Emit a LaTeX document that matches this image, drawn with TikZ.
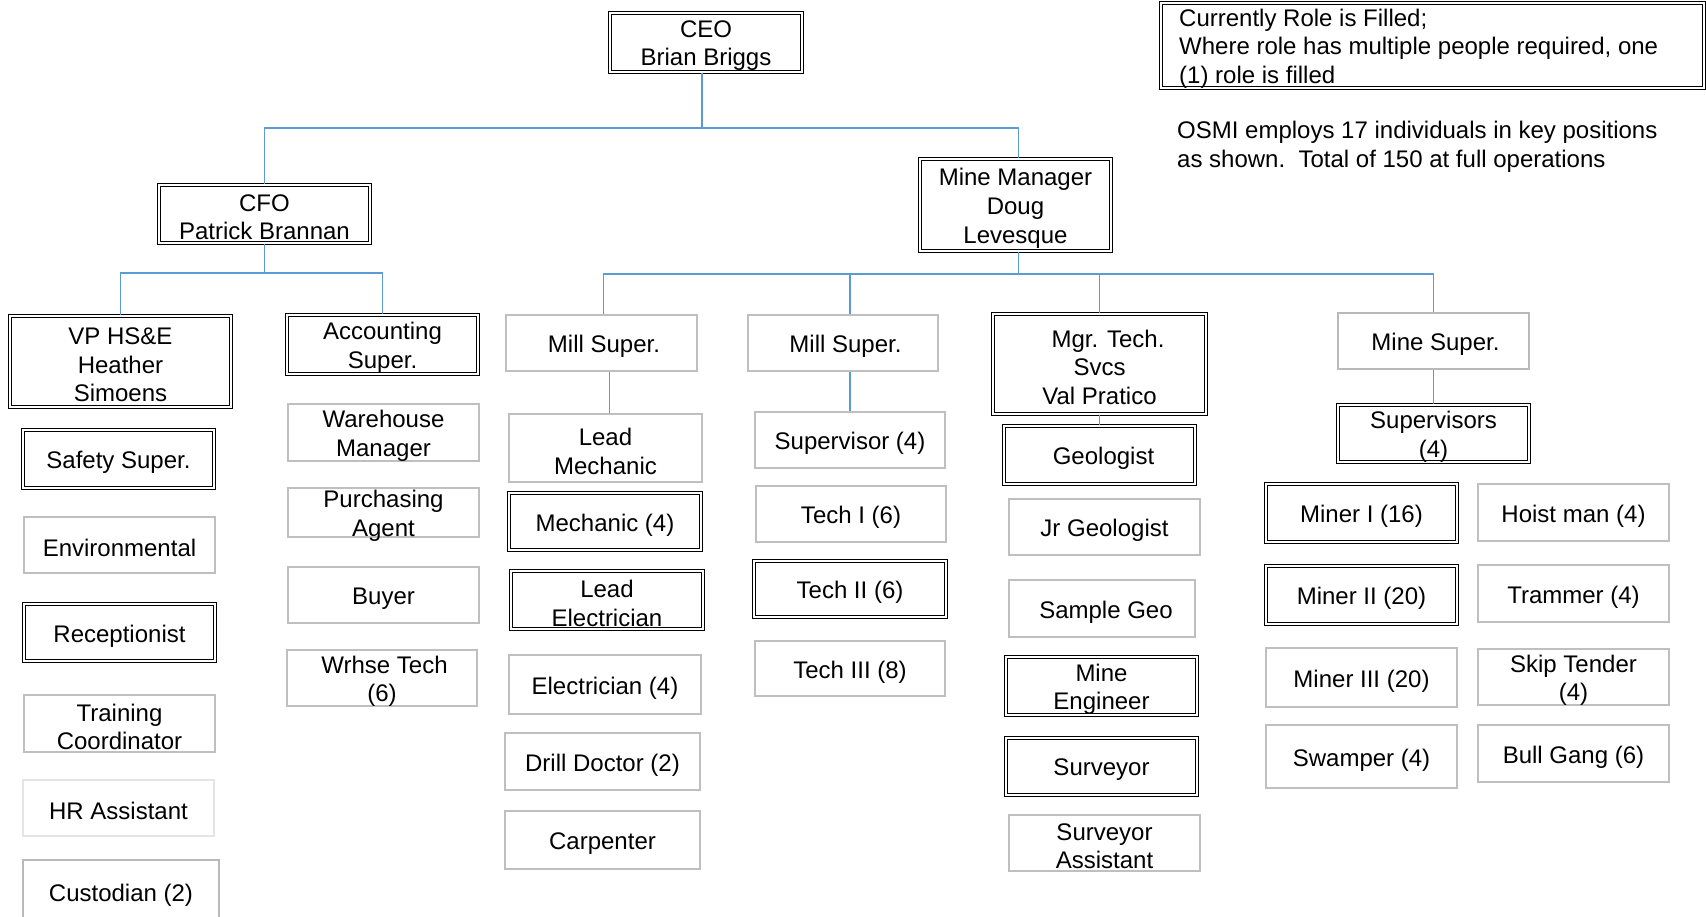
\documentclass[tikz,border=0pt]{standalone}
\usepackage{fontspec}
\setmainfont{Liberation Sans}
\definecolor{connblue}{HTML}{5B9BD5}
\definecolor{boxgray}{HTML}{BFBFBF}
\definecolor{lightgray2}{HTML}{E4E4E4}
\newcommand\fs{\fontsize{24}{28.6}\selectfont}
\tikzset{
  base/.style={font=\fs, align=center, inner sep=0pt, anchor=center},
  txt/.style={font=\fs, align=center, inner sep=0pt, yshift=-3.3pt},
  dbl/.style={base, draw=black, line width=1.2pt, double=white, double distance=1.6pt},
  gry/.style={base, draw=boxgray, line width=1.6pt},
  conn/.style={draw=connblue, line width=1.4pt},
}
\newcommand\dboxx[7][]{\node[dbl,#1, minimum width={#4-#3-4}, minimum height={#6-#5-4}, label={[txt]center:{#7}}] (#2) at ({(#3+#4)/2},{(#5+#6)/2}) {};}
\newcommand\gboxx[7][]{\node[gry,#1, minimum width={#4-#3-1.6}, minimum height={#6-#5-1.6}, label={[txt]center:{#7}}] (#2) at ({(#3+#4)/2},{(#5+#6)/2}) {};}
\begin{document}
\begin{tikzpicture}[x=1pt,y=-1pt]
\useasboundingbox (0,0) rectangle (1706,917);
% legend
\draw[draw=black, line width=1.2pt, double=white, double distance=1.6pt] (1161,3) rectangle (1704,88);
\node[font=\fs, align=left, anchor=west, inner sep=0pt] (legend) at (1179,48.5) {Currently Role is Filled;\\Where role has multiple people required, one\\(1) role is filled};
\node[font=\fs, align=left, anchor=west, inner sep=0pt] (note) at (1177,146.5) {OSMI employs 17 individuals in key positions\\as shown.\ \ Total of 150 at full operations};
% top
\dboxx{ceo}{608}{804}{11}{74}{CEO\\Brian Briggs}
\dboxx{cfo}{157}{372}{183}{245}{CFO\\Patrick Brannan}
\dboxx{mm}{918}{1113}{157}{253}{Mine Manager\\Doug\\Levesque}
% second level
\dboxx{vp}{8}{233}{314}{409}{VP HS\&E\\Heather\\Simoens}
\dboxx{acc}{285}{480}{313}{376}{Accounting\\Super.}
\gboxx{mill1}{505}{698}{314}{372}{\hspace*{5pt}Mill Super.}
\gboxx{mill2}{747}{939}{314}{372}{\hspace*{5pt}Mill Super.}
\dboxx{mgr}{991}{1208}{312}{416}{\hspace*{17pt}Mgr. Tech.\\Svcs\\Val Pratico}
\gboxx[draw=gray!55]{minesup}{1337}{1530}{312}{370}{\hspace*{4pt}Mine Super.}
% VP column
\dboxx{safety}{21}{216}{428}{490}{Safety Super.}
\gboxx{env}{23}{216}{516}{574}{Environmental}
\dboxx{recep}{22}{217}{602}{663}{Receptionist}
\gboxx{train}{23}{216}{694}{753}{Training\\Coordinator}
\gboxx[draw=lightgray2]{hr}{22}{215}{779}{837}{HR Assistant}
\gboxx[draw=gray!55, line width=2pt]{cust}{22}{220}{859}{925}{Custodian (2)}
% Accounting column
\gboxx{wm}{287}{480}{403}{462}{Warehouse\\Manager}
\gboxx{pa}{287}{480}{487}{538}{Purchasing\\Agent}
\gboxx{buyer}{287}{480}{566}{624}{Buyer}
\gboxx{wt}{286}{478}{649}{707}{\hspace*{5pt}Wrhse Tech\\(6)}
% Mill 1 column
\gboxx{lmech}{508}{703}{413}{483}{Lead\\Mechanic}
\dboxx{mech}{507}{703}{491}{552}{Mechanic (4)}
\dboxx{lelec}{509}{705}{569}{631}{Lead\\Electrician}
\gboxx{elec}{508}{702}{654}{715}{Electrician (4)}
\gboxx{drill}{504}{701}{732}{791}{Drill Doctor (2)}
\gboxx{carp}{504}{701}{810}{870}{Carpenter}
% Mill 2 column
\gboxx{sup4}{754}{946}{411}{469}{Supervisor (4)}
\gboxx{tech1}{755}{947}{485}{543}{Tech I (6)}
\dboxx{tech2}{752}{948}{559}{619}{Tech II (6)}
\gboxx{tech3}{754}{946}{640}{697}{Tech III (8)}
% Tech services column
\dboxx{geo}{1002}{1197}{424}{486}{\hspace*{8pt}Geologist}
\gboxx{jrgeo}{1008}{1201}{498}{556}{Jr Geologist}
\gboxx{sgeo}{1008}{1196}{579}{638}{\hspace*{8pt}Sample Geo}
\dboxx{meng}{1004}{1199}{655}{717}{Mine\\Engineer}
\dboxx{surv}{1004}{1199}{736}{797}{Surveyor}
\gboxx{survass}{1008}{1201}{814}{872}{Surveyor\\Assistant}
% Mine column
\dboxx{sups}{1336}{1531}{403}{464}{Supervisors\\(4)}
\dboxx{miner1}{1264}{1459}{482}{544}{Miner I (16)}
\gboxx{hoist}{1477}{1670}{483}{542}{Hoist man (4)}
\dboxx{miner2}{1264}{1459}{564}{626}{Miner II (20)}
\gboxx{tram}{1477}{1670}{564}{623}{Trammer (4)}
\gboxx{miner3}{1265}{1458}{647}{708}{Miner III (20)}
\gboxx{skip}{1477}{1670}{648}{706}{Skip Tender\\(4)}
\gboxx{swamp}{1265}{1458}{724}{789}{Swamper (4)}
\gboxx{bull}{1477}{1670}{724}{783}{Bull Gang (6)}
% connectors
\coordinate (b0) at (0,128);
\coordinate (b1) at (0,273);
\coordinate (b2) at (0,274);
\draw[conn] ([xshift=-4pt]ceo.south) -- ([xshift=-4pt]ceo.south |- b0);
\draw[conn] (cfo.north) |- ([xshift=3pt]mm.north |- b0) -- ([xshift=3pt]mm.north);
\draw[conn] (cfo.south) -- (cfo.south |- b1);
\draw[conn] (vp.north) |- (acc.north |- b1) -- (acc.north);
\draw[conn] ([xshift=3pt]mm.south) -- ([xshift=3pt]mm.south |- b2);
\draw[conn] ([xshift=2pt]mill1.north) |- (minesup.north |- b2) -- (minesup.north);
\draw[conn] (sup4.north |- b2) -- (sup4.north |- mill2.north);
\draw[conn] (mgr.north |- b2) -- (mgr.north);
\draw[conn] ([xshift=8pt]mill1.south) -- ([xshift=8pt]mill1.south |- lmech.north);
\draw[conn] (sup4.north |- mill2.south) -- (sup4.north);
\draw[conn] (mgr.south) -- (mgr.south |- geo.north);
\draw[conn] (minesup.south) -- (minesup.south |- sups.north);
\end{tikzpicture}
\end{document}
